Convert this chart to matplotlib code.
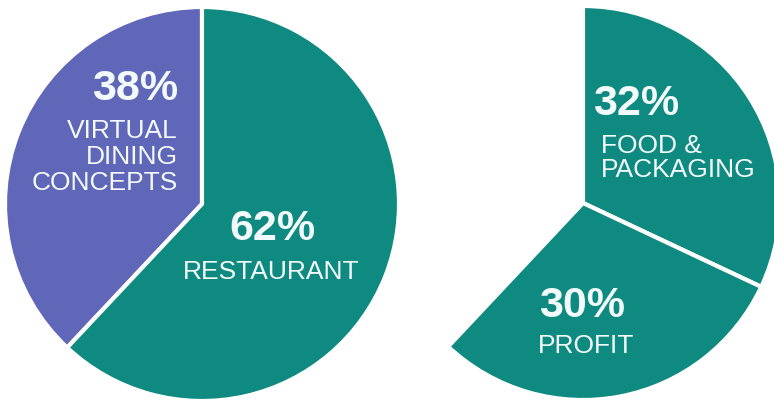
import matplotlib.pyplot as plt

# left pie: kitchen revenue split
left_labels = ["VIRTUAL\nDINING\nCONCEPTS", "RESTAURANT"]
left_values = [38, 62]

# right pie: cost split (the remaining share is left blank)
right_labels = ["FOOD &\nPACKAGING", "PROFIT", ""]
right_values = [32, 30, 38]

teal = "#0f8a80"
purple = "#6066b8"
text_color = "#f2fafb"

W, H = 774, 406

fig = plt.figure(
    figsize=(W / 100, H / 100),
    dpi=100
)

ax = fig.add_axes([0, 0, 1, 1])

left_wedges, _ = ax.pie(
    left_values,
    colors=[purple, teal],
    startangle=90,
    counterclock=True,
    center=(202, H - 205),
    radius=197,
    wedgeprops=dict(edgecolor="white", linewidth=3)
)

right_wedges, _ = ax.pie(
    right_values,
    colors=[teal, teal, "white"],
    startangle=90,
    counterclock=False,
    center=(583, H - 204),
    radius=197,
    wedgeprops=dict(edgecolor="white", linewidth=3)
)

# the last slice of the right pie is not drawn
right_wedges[2].set_visible(False)

ax.set_xlim(0, W)
ax.set_ylim(0, H)
ax.set_aspect("equal")
ax.axis("off")

font = "Liberation Sans"


def pct(x, y, value, ha):
    ax.text(
        x, H - y,
        f"{value}%",
        ha=ha,
        va="center",
        fontsize=31,
        fontweight="bold",
        family=font,
        color=text_color
    )


def name(x, y, label, ha, spacing):
    ax.text(
        x, H - y,
        label,
        ha=ha,
        va="center",
        fontsize=19,
        family=font,
        color=text_color,
        multialignment=ha,
        linespacing=spacing
    )


pct(178, 89, left_values[0], "right")
name(178, 157, left_labels[0], "right", 1.13)

pct(272, 229, left_values[1], "center")
name(271, 272, left_labels[1], "center", 1.0)

pct(593, 104, right_values[0], "left")
name(601, 158, right_labels[0], "left", 1.05)

pct(582, 306, right_values[1], "center")
name(586, 346, right_labels[1], "center", 1.0)

plt.savefig(
    "out.png",
    dpi=100
)

plt.close()
